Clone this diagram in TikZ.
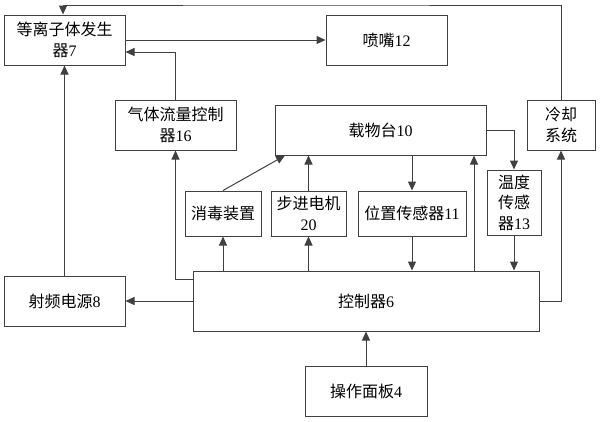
\documentclass[tikz,border=0pt]{standalone}
\usepackage{fontspec}
\setmainfont{Liberation Serif}
\newfontfamily\cjk{Noto Sans CJK SC}
\newcommand\cn[1]{{\cjk #1}}
\usetikzlibrary{arrows.meta}
\tikzset{
  blk/.style={draw=black!75, line width=1pt, inner sep=0pt, align=center,
    font=\fontsize{16}{20.5}\selectfont},
  arr/.style={draw=black!75, line width=1pt, -{Triangle[length=9pt,width=8pt]}},
  ln/.style={draw=black!75, line width=1pt}
}
\begin{document}
\begin{tikzpicture}[x=1pt,y=-1pt]
                \useasboundingbox (0,0) rectangle (600,421);
                \node[blk, minimum width=121pt, minimum height=50pt] (plasma) at (64.5,40) {\cn{等离子体发生}\\\cn{器}7};
                \node[blk, minimum width=121pt, minimum height=50pt] (nozzle) at (386.5,40) {\cn{喷嘴}12};
                \node[blk, minimum width=121pt, minimum height=50pt] (gas) at (175.5,125) {\cn{气体流量控制}\\\cn{器}16};
                \node[blk, minimum width=211pt, minimum height=50pt] (stage) at (380.5,130) {\cn{载物台}10};
                \node[blk, minimum width=68pt, minimum height=50pt] (cool) at (561,125) {\cn{冷却}\\\cn{系统}};
                \node[blk, minimum width=76pt, minimum height=45pt] (disinf) at (223,213.5) {\cn{消毒装置}};
                \node[blk, minimum width=75pt, minimum height=45pt] (motor) at (308.5,213.5) {\cn{步进电机}\\20};
                \node[blk, minimum width=108pt, minimum height=45pt] (pos) at (412,213.5) {\cn{位置传感器}11};
                \node[blk, minimum width=54pt, minimum height=65pt] (temp) at (514,202.5) {\cn{温度}\\\cn{传感}\\\cn{器}13};
                \node[blk, minimum width=346pt, minimum height=60pt] (ctrl) at (366,301) {\cn{控制器}6};
                \node[blk, minimum width=121pt, minimum height=50pt] (rf) at (64.5,301) {\cn{射频电源}8};
                \node[blk, minimum width=122pt, minimum height=50pt] (panel) at (366,391) {\cn{操作面板}4};
                \coordinate (top) at (300,5);
                \coordinate (lift) at (474,271);

                \draw[arr] (cool.north) |- (top) -| ([xshift=-1.5pt]plasma.north);
                \draw[arr] (plasma.east) -- (nozzle.west);
                \draw[arr] (gas.north) |- ([yshift=-12pt]plasma.east);
                \draw[arr] (rf.north) -- (plasma.south);
                \draw[arr] (ctrl.west) -- (rf.east);
                \draw[arr] ([yshift=22pt]ctrl.west) -| (gas.south);
                \draw[arr] (disinf.south |- ctrl.north) -- (disinf.south);
                \draw[arr] (disinf.north) -- ([xshift=-95.5pt]stage.south);
                \draw[arr] (motor.south |- ctrl.north) -- (motor.south);
                \draw[arr] (motor.north) -- (motor.north |- stage.south);
                \draw[arr] (pos.north |- stage.south) -- (pos.north);
                \draw[arr] (pos.south) -- (pos.south |- ctrl.north);
                \draw[arr] (lift) -- (lift |- stage.south);
                \draw[arr] (stage.east) -| (temp.north);
                \draw[arr] (temp.south) -- (temp.south |- ctrl.north);
                \draw[arr] (ctrl.east) -| (cool.south);
                \draw[arr] (panel.north) -- (ctrl.south);
            \end{tikzpicture}
\end{document}
